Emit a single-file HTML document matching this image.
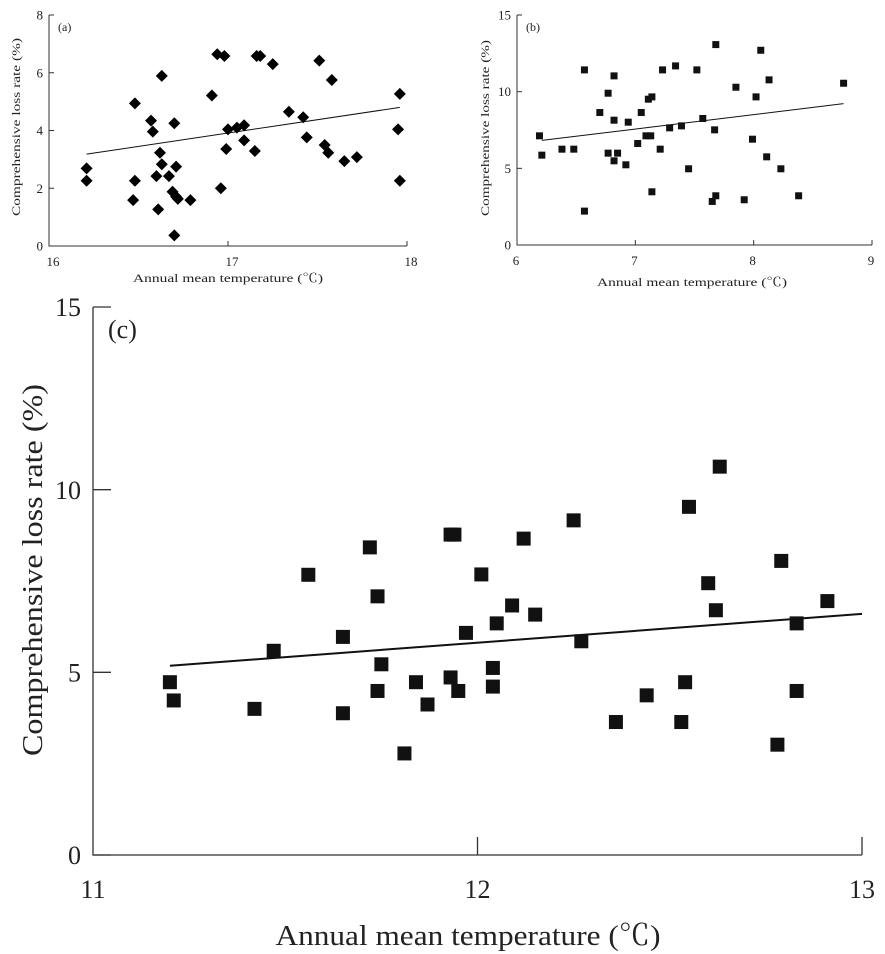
<!DOCTYPE html>
<html><head><meta charset="utf-8"><style>
body{margin:0;background:#fff;}
svg{display:block;font-family:"Liberation Serif","Noto Serif CJK SC",serif;}
</style></head><body>
<svg id="fig" width="885" height="954" viewBox="0 0 885 954" xmlns="http://www.w3.org/2000/svg"></svg>
<script>
// Panel (a)
const aX=[16.21,16.21,16.48,16.47,16.48,16.57,16.58,16.62,16.63,16.63,16.60,16.61,16.67,16.70,16.71,16.69,16.71,16.72,16.70,16.79,16.91,16.94,16.98,16.96,16.99,17.0,17.05,17.09,17.09,17.15,17.16,17.18,17.25,17.34,17.42,17.44,17.51,17.54,17.56,17.58,17.65,17.72,17.96,17.95,17.96];
const aY=[2.69,2.26,4.94,1.59,2.26,4.34,3.96,3.23,5.89,2.83,2.42,1.27,2.42,4.25,2.75,1.88,1.71,1.63,0.37,1.59,5.21,6.64,6.58,2.0,3.36,4.04,4.10,4.18,3.66,3.29,6.58,6.58,6.30,4.65,4.46,3.76,6.42,3.50,3.23,5.75,2.94,3.08,5.27,4.04,2.26];
const aTrend=[[16.21,3.18],[17.96,4.80]];
const aXTicks=[16,17,18];
const aYTicks=[0,2,4,6,8];
// Panel (b)
const bX=[6.19,6.21,6.38,6.48,6.57,6.57,6.70,6.77,6.77,6.82,6.82,6.82,6.85,6.92,6.94,7.02,7.05,7.09,7.11,7.13,7.14,7.14,7.21,7.23,7.29,7.34,7.39,7.45,7.52,7.57,7.67,7.65,7.68,7.68,7.85,7.92,7.99,8.02,8.06,8.11,8.13,8.23,8.38,8.76];
const bY=[7.12,5.86,6.25,6.25,11.42,2.21,8.64,9.90,5.99,11.03,8.14,5.49,5.99,5.23,8.01,6.62,8.64,7.12,9.51,7.12,9.66,3.47,6.25,11.42,7.64,11.68,7.77,4.97,11.42,8.25,7.51,2.84,3.21,13.07,10.29,2.95,6.90,9.66,12.70,5.75,10.77,4.97,3.21,10.55];
const bTrend=[[6.21,6.82],[8.76,9.22]];
const bXTicks=[6,7,8,9];
const bYTicks=[0,5,10,15];
// Panel (c)
const cX=[11.20,11.21,11.42,11.47,11.56,11.65,11.65,11.72,11.74,11.74,11.75,11.81,11.84,11.87,11.93,11.93,11.94,11.95,11.97,12.01,12.04,12.04,12.05,12.09,12.12,12.15,12.25,12.27,12.36,12.44,12.53,12.54,12.55,12.60,12.62,12.63,12.78,12.79,12.83,12.83,12.91];
const cY=[4.73,4.23,4.00,5.59,7.67,5.97,3.88,8.42,7.08,4.49,5.22,2.78,4.73,4.12,4.86,8.77,8.77,4.49,6.08,7.68,5.12,4.61,6.34,6.83,8.66,6.58,9.16,5.85,3.64,4.37,3.64,4.73,9.53,7.44,6.70,10.63,3.02,8.05,6.34,4.49,6.95];
const cTrend=[[11.20,5.18],[13.0,6.60]];
const cXTicks=[11,12,13];
const cYTicks=[0,5,10,15];

const NS="http://www.w3.org/2000/svg";
const svg=document.getElementById('fig');
function mk(tag,attrs,parent){const e=document.createElementNS(NS,tag);for(const k in attrs)e.setAttribute(k,attrs[k]);(parent||svg).appendChild(e);return e;}

function panel(p){
  const g=mk('g',{});
  
  
  const sx=v=>p.L+(v-p.x0)/(p.x1-p.x0)*(p.R-p.L);
  const sy=v=>p.B-(v-p.y0)/(p.y1-p.y0)*(p.B-p.T);
  const ax=mk('path',{d:`M${p.L},${p.T} V${p.B} H${p.R}`,fill:'none',stroke:'#333','stroke-width':p.sw},g);
  
  
  p.yt.forEach(v=>{
    const y=sy(v);
    const t=mk('line',{x1:p.L,x2:p.L+p.tick,y1:y,y2:y,stroke:'#333','stroke-width':p.sw},g);
    
    
    const l=mk('text',{x:p.L-p.lgap,y:y+p.fs*0.35,'text-anchor':'end','font-size':p.fs,fill:'#222'},g);
    
    
    l.textContent=v;
  });
  p.xt.forEach(v=>{
    const x=sx(v);
    if(v!==p.xt[0]){
      const t=mk('line',{x1:x,x2:x,y1:p.B,y2:p.B-p.tick,stroke:'#333','stroke-width':p.sw},g);
      
      
    }
    const l=mk('text',{x:x+p.xlo,y:p.B+p.xly,'text-anchor':'middle','font-size':p.fs,fill:'#222'},g);
    
    
    l.textContent=v;
  });
  const xt=mk('text',{x:p.xtx,y:p.xty,'text-anchor':'middle','font-size':p.tfs,fill:'#222',textLength:p.xtl,lengthAdjust:'spacingAndGlyphs'},g);
  
  
  xt.textContent='Annual mean temperature (℃)';
  const yt=mk('text',{x:0,y:0,'text-anchor':'middle','font-size':p.tfs,fill:'#222',textLength:p.ytl,lengthAdjust:'spacingAndGlyphs',transform:`translate(${p.ytx},${p.yty}) rotate(-90)`},g);
  
  
  yt.textContent='Comprehensive loss rate (%)';
  const lb=mk('text',{x:p.lx,y:p.ly,'font-size':p.lfs,fill:'#222'},g);
  
  
  lb.textContent=p.label;
  const tr=mk('line',{x1:sx(p.trend[0][0]),y1:sy(p.trend[0][1]),x2:sx(p.trend[1][0]),y2:sy(p.trend[1][1]),stroke:'#111','stroke-width':p.tw},g);
  
  
  p.xs.forEach((xv,i)=>{
    const cx=sx(xv),cy=sy(p.ys[i]),h=p.ms/2;
    let m;
    if(p.shape==='diamond'){
      m=mk('polygon',{points:`${cx},${cy-h} ${cx+h},${cy} ${cx},${cy+h} ${cx-h},${cy}`,fill:'#000'},g);
    }else{
      m=mk('rect',{x:cx-h,y:cy-h,width:p.ms,height:p.ms,fill:'#111'},g);
    }
    
    
  });
}

panel({name:'panel-a',L:49,R:407,T:15,B:246,x0:16,x1:18,y0:0,y1:8,xs:aX,ys:aY,trend:aTrend,xt:aXTicks,yt:aYTicks,
  sw:1,tick:5,fs:13,lgap:6,xlo:4,xly:20,tfs:12,xtx:228,xty:282,xtl:190,ytx:20,yty:127,ytl:178,
  lx:58,ly:31,lfs:12,label:'(a)',tw:1,ms:12,shape:'diamond'});
panel({name:'panel-b',L:517,R:872,T:15,B:245,x0:6,x1:9,y0:0,y1:15,xs:bX,ys:bY,trend:bTrend,xt:bXTicks,yt:bYTicks,
  sw:1,tick:5,fs:13,lgap:6,xlo:-1,xly:20,tfs:12,xtx:692,xty:286,xtl:190,ytx:489,yty:128,ytl:176,
  lx:526,ly:31,lfs:12,label:'(b)',tw:1,ms:7,shape:'square'});
panel({name:'panel-c',L:93,R:862,T:307,B:855,x0:11,x1:13,y0:0,y1:15,xs:cX,ys:cY,trend:cTrend,xt:cXTicks,yt:cYTicks,
  sw:1.3,tick:18,fs:26,lgap:12,xlo:0,xly:43,tfs:29,xtx:468,xty:945,xtl:385,ytx:42,yty:570,ytl:372,
  lx:108,ly:338,lfs:26,label:'(c)',tw:2,ms:14,shape:'square'});
</script>
</body></html>
